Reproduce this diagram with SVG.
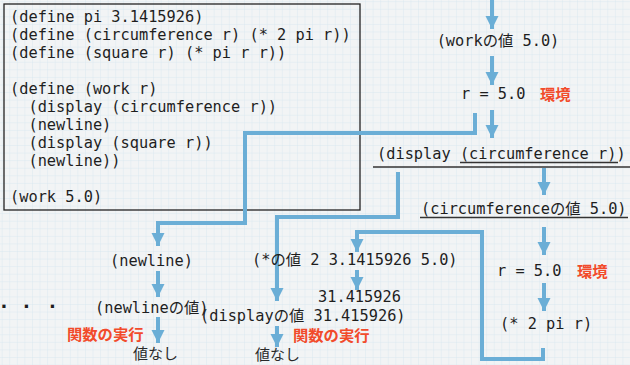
<svg xmlns="http://www.w3.org/2000/svg" width="630" height="365" viewBox="0 0 630 365">
<defs>
<pattern id="grid" x="1.7" y="1.2" width="7.57" height="7.57" patternUnits="userSpaceOnUse">
<path d="M0,0 H7.57 M0,0 V7.57" fill="none" stroke="#d6e6ef" stroke-width="0.8"/>
</pattern>
<marker id="ah" markerUnits="userSpaceOnUse" markerWidth="14" markerHeight="14" refX="13" refY="7" orient="auto">
<path d="M0,0.5 L13,7 L0,13.5 Z" fill="#6baed6"/>
</marker>
<style>
.code{font-family:"DejaVu Sans Mono","Noto Sans CJK JP",monospace;font-size:15.3px;fill:#1e1e1e;white-space:pre}
.jp{font-family:"Noto Sans CJK JP",sans-serif;font-size:15px;fill:#2a2a2a}
.red{font-family:"Noto Sans CJK JP",sans-serif;font-size:15.3px;font-weight:bold;fill:#f24b2b}
.dots{font-family:"DejaVu Sans",sans-serif;font-size:18px;font-weight:bold;fill:#1e1e1e}
.ar{fill:none;stroke:#6baed6;stroke-width:4;marker-end:url(#ah)}
.ul{stroke:#333;stroke-width:1.3}
</style>
</defs>
<rect width="630" height="365" fill="#f2f4f5"/>
<rect width="630" height="365" fill="url(#grid)"/>

<g id="code">
<rect x="4" y="4" width="356" height="206" fill="none" stroke="#222" stroke-width="1.3"/>
<text class="code" x="10" y="22">(define pi 3.1415926)</text>
<text class="code" x="10" y="40">(define (circumference r) (* 2 pi r))</text>
<text class="code" x="10" y="58">(define (square r) (* pi r r))</text>
<text class="code" x="10" y="94">(define (work r)</text>
<text class="code" x="10" y="112" xml:space="preserve">  (display (circumference r))</text>
<text class="code" x="10" y="130" xml:space="preserve">  (newline)</text>
<text class="code" x="10" y="148" xml:space="preserve">  (display (square r))</text>
<text class="code" x="10" y="166" xml:space="preserve">  (newline))</text>
<text class="code" x="10" y="202">(work 5.0)</text>
</g>

<g id="connectors">
<line class="ar" x1="492" y1="0" x2="492" y2="29"/>
<line class="ar" x1="492" y1="56" x2="492" y2="85"/>
<line class="ar" x1="492" y1="110" x2="492" y2="138"/>
<line class="ar" x1="544" y1="168" x2="544" y2="195"/>
<line class="ar" x1="544" y1="227" x2="544" y2="255"/>
<line class="ar" x1="544" y1="283" x2="544" y2="311"/>
<path class="ar" d="M475,113 V133 H245 V223 H158 V246"/>
<line class="ar" x1="158" y1="271" x2="158" y2="297"/>
<line class="ar" x1="158" y1="317" x2="158" y2="343"/>
<path class="ar" d="M398,172 V217 H277 V301"/>
<line class="ar" x1="277" y1="326" x2="277" y2="347"/>
<path class="ar" d="M543,348 V359 H482 V232 H357 V252"/>
<line class="ar" x1="357" y1="270" x2="357" y2="290"/>
</g>

<g id="work-value">
<text class="code" x="498" y="46" text-anchor="middle">(workの値 5.0)</text>
</g>
<g id="env1">
<text class="code" x="461" y="99">r = 5.0</text>
<text class="red" x="540" y="100">環境</text>
</g>
<g id="display-circ">
<text class="code" x="377" y="159">(display (circumference r))</text>
<line class="ul" x1="460" y1="162.5" x2="618" y2="162.5"/>
<line class="ul" x1="373" y1="167" x2="630" y2="167" stroke-width="1.6"/>
</g>
<g id="circ-value">
<text class="code" x="421" y="214">(circumferenceの値 5.0)</text>
<line class="ul" x1="420" y1="217.5" x2="628" y2="217.5"/>
</g>
<g id="env2">
<text class="code" x="497" y="276">r = 5.0</text>
<text class="red" x="577" y="277">環境</text>
</g>
<g id="mul">
<text class="code" x="500" y="329">(* 2 pi r)</text>
</g>
<g id="mul-value">
<text class="code" x="252" y="265">(*の値 2 3.1415926 5.0)</text>
</g>
<g id="result">
<text class="code" x="318" y="302">31.415926</text>
</g>
<g id="display-value">
<text class="code" x="200" y="321">(displayの値 31.415926)</text>
<text class="red" x="293" y="341">関数の実行</text>
<text class="jp" x="255" y="360">値なし</text>
</g>
<g id="newline">
<text class="code" x="110" y="266">(newline)</text>
</g>
<g id="newline-value">
<text class="code" x="95" y="313">(newlineの値)</text>
<text class="red" x="67" y="340">関数の実行</text>
<text class="jp" x="133" y="359">値なし</text>
</g>
<g id="dots">
<text class="dots" x="0.5 23 49" y="308">...</text>
</g>
</svg>
